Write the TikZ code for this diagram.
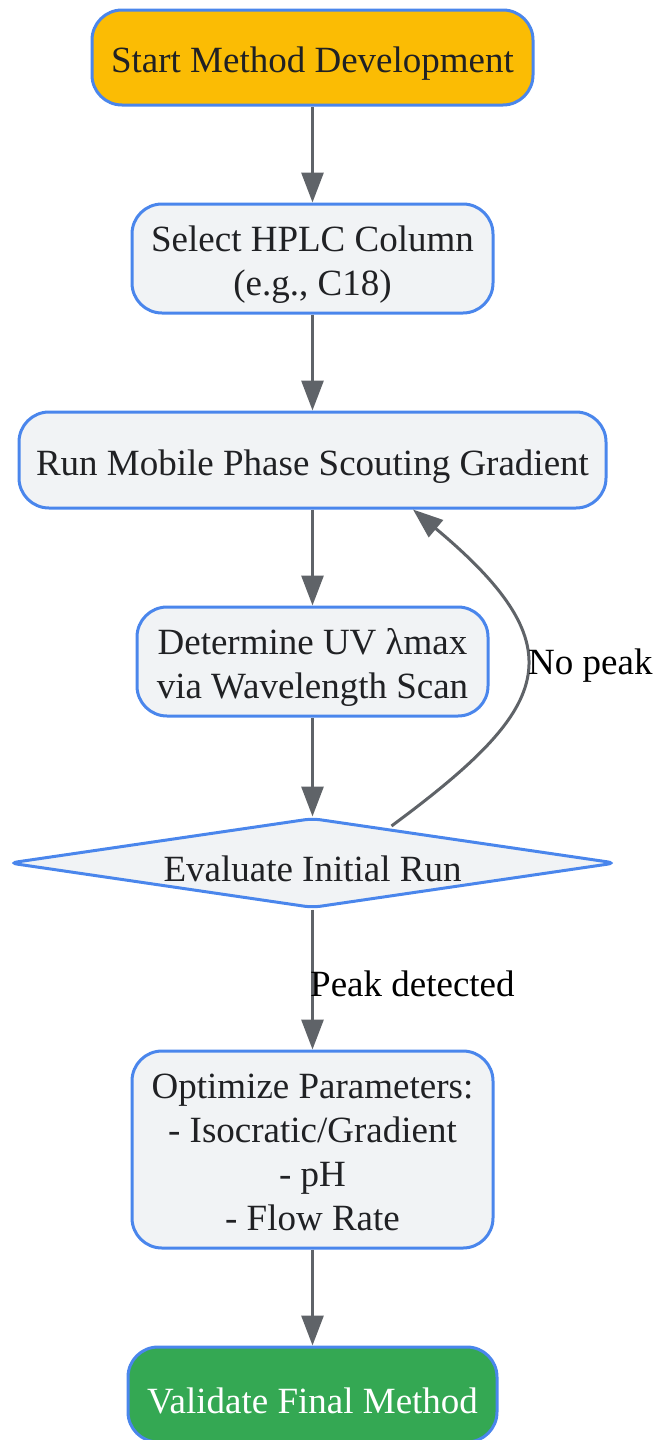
\documentclass[tikz,border=0pt]{standalone}
\usepackage{fontspec}
\setmainfont{Liberation Serif}
\usetikzlibrary{shapes.geometric,arrows.meta}

\definecolor{edgeblue}{HTML}{4A86EC}
\definecolor{boxgray}{HTML}{F1F3F5}
\definecolor{startyellow}{HTML}{FBBC04}
\definecolor{endgreen}{HTML}{34A853}
\definecolor{linegray}{HTML}{5F6368}
\definecolor{textdark}{HTML}{202124}

% pushes the first text line down a little
\newcommand{\toppad}[1][38pt]{\rule{0pt}{#1}}

\begin{document}
\begin{tikzpicture}[
    x=1pt, y=-1pt,
    box/.style={rectangle, rounded corners=30pt, draw=edgeblue, line width=3pt, fill=boxgray, text=textdark, align=center, inner sep=0pt, font=\fontsize{37}{44}\selectfont},
    decision/.style={diamond, aspect=6.8, rounded corners=8pt, draw=edgeblue, line width=3pt, fill=boxgray, text=textdark, inner sep=0pt, font=\fontsize{37}{44}\selectfont},
    lbl/.style={text=black, inner sep=0pt, font=\fontsize{37}{44}\selectfont},
    arrow/.style={-{Triangle[length=30pt,width=22pt]}, line width=3pt, draw=linegray, fill=linegray}
]
\useasboundingbox (0,0) rectangle (658,1440);

% Steps
\node[box, fill=startyellow, minimum width=441pt, minimum height=95pt] at (312.5, 57.5) (start) {\toppad Start Method Development};
\node[box, minimum width=361pt, minimum height=109pt] at (312.5, 258.5) (column) {\toppad Select HPLC Column\\(e.g., C18)};
\node[box, minimum width=587pt, minimum height=96pt] at (312.5, 460) (scout) {\toppad Run Mobile Phase Scouting Gradient};
\node[box, minimum width=351pt, minimum height=109pt] at (312.5, 661.5) (lambda) {\toppad Determine UV λmax\\via Wavelength Scan};

% Decision
\node[decision, minimum width=607pt, minimum height=90pt] at (312.5, 863) (eval) {\toppad Evaluate Initial Run};

\node[box, minimum width=361pt, minimum height=197pt] at (312.5, 1149.5) (optim) {\toppad[30pt]Optimize Parameters:\\- Isocratic/Gradient\\- pH\\- Flow Rate};
\node[box, fill=endgreen, text=white, minimum width=369pt, minimum height=95pt] at (312.5, 1394.5) (valid) {\toppad Validate Final Method};

% Arrows
\draw[arrow] (start) -- (column);
\draw[arrow] (column) -- (scout);
\draw[arrow] (scout) -- (lambda);
\draw[arrow] (lambda) -- (eval);
\draw[arrow] (eval) -- (optim);
\draw[arrow] (optim) -- (valid);

% Loop back
\draw[arrow, fill=none] ([xshift=79pt, yshift=37pt]eval.center) .. controls (549.5, 709) and (581, 650) .. ([xshift=100.5pt]scout.south);

% Labels
\node[lbl, anchor=west] at (528, 666) (nopeak) {No peak};
\node[lbl, anchor=west] at (310, 984) (peak) {Peak detected};

\end{tikzpicture}
\end{document}
